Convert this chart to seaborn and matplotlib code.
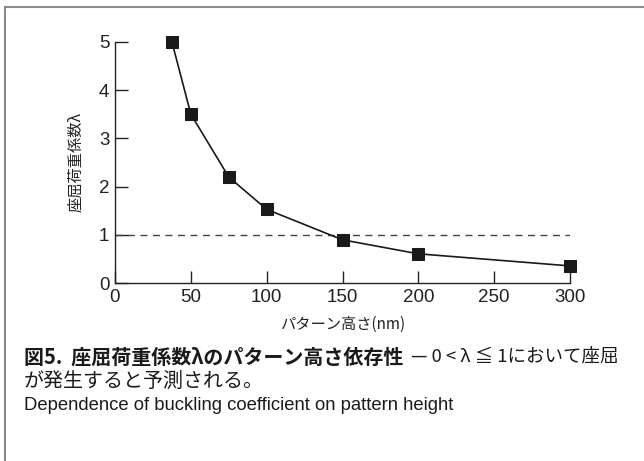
import matplotlib
matplotlib.use("Agg")
import matplotlib.pyplot as plt
import seaborn as sns
import pandas as pd
from matplotlib.lines import Line2D

# data
heights_nm = [37.5, 50, 75, 100, 150, 200, 300]
buckling_coef = [5.0, 3.5, 2.2, 1.53, 0.9, 0.61, 0.36]
threshold = [1.0]
x_ticks = [0, 50, 100, 150, 200, 250, 300]
y_ticks = [0, 1, 2, 3, 4, 5]

xlabel = "パターン高さ(nm)"
ylabel = "座屈荷重係数λ"
cap_bold = "図5.  座屈荷重係数λのパターン高さ依存性"
cap_rest = "— 0 < λ ≦ 1において座屈"
cap_line2 = "が発生すると予測される。"
cap_en = "Dependence of buckling coefficient on pattern height"

sns.set_style("ticks")
plt.rcParams['font.family'] = ['Liberation Sans', 'Noto Sans CJK JP', 'DejaVu Sans']
JP = ['Noto Sans CJK JP', 'DejaVu Sans']

W, H = 644, 461
fig = plt.figure(figsize=(W / 100, H / 100), dpi=100)
ax = fig.add_axes([115 / W, 1 - 283.3 / H, 455 / W, (283.3 - 41.7) / H])

df = pd.DataFrame({"h": heights_nm, "lam": buckling_coef})
ax.axhline(threshold[0], xmin=0, xmax=1, color="#444444", lw=1.0, ls=(0, (5, 4)), zorder=1)
sns.lineplot(data=df, x="h", y="lam", ax=ax, color="#1a1a1a", lw=1.2,
             marker="s", markersize=8, markeredgecolor="#1a1a1a",
             markerfacecolor="#1a1a1a", zorder=3, clip_on=False)

ax.set_xlim(0, 300)
ax.set_ylim(0, 5)
ax.set_xticks(x_ticks)
ax.set_yticks(y_ticks)
ax.tick_params(direction="in", length=9, width=1.0, colors="#222222",
               labelsize=13.5, pad=4)
ax.tick_params(axis="x", pad=4)
for s in ["top", "right"]:
    ax.spines[s].set_visible(False)
for s in ["left", "bottom"]:
    ax.spines[s].set_color("#222222")
    ax.spines[s].set_linewidth(1.0)

ax.set_xlabel(xlabel, family=JP, fontsize=11, color="#222222")
ax.set_ylabel(ylabel, family=JP, fontsize=11, color="#222222")
ax.xaxis.set_label_coords(0.5, -(324 - 283.3) / 241.6)
ax.yaxis.set_label_coords((76 - 115) / 455, 0.5)
ax.xaxis.label.set_va("center")
ax.yaxis.label.set_va("center")

# frame lines
fig.add_artist(Line2D([5 / W, 1], [1 - 7 / H, 1 - 7 / H], transform=fig.transFigure,
                      color="#8a8a8a", lw=1.5))
fig.add_artist(Line2D([5 / W, 5 / W], [0, 1 - 7 / H], transform=fig.transFigure,
                      color="#8a8a8a", lw=1.5))

# caption
x0 = 24
t1 = fig.text(x0 / W, 1 - 357 / H, cap_bold, family=JP, fontsize=14.4,
              fontweight="bold", va="center", ha="left", color="#1a1a1a")
fig.canvas.draw()
bb = t1.get_window_extent()
fig.text((bb.x1 + 8) / W, 1 - 357 / H, cap_rest, family=JP, fontsize=13.3,
         va="center", ha="left", color="#1a1a1a")
fig.text(x0 / W, 1 - 381 / H, cap_line2, family=JP, fontsize=14.4,
         va="center", ha="left", color="#1a1a1a")
fig.text(x0 / W, 1 - 405 / H, cap_en, family=['Liberation Sans Narrow', 'Liberation Sans'],
         fontsize=13.3, va="center", ha="left", color="#1a1a1a")

fig.savefig("out.png", dpi=100, facecolor="white")
